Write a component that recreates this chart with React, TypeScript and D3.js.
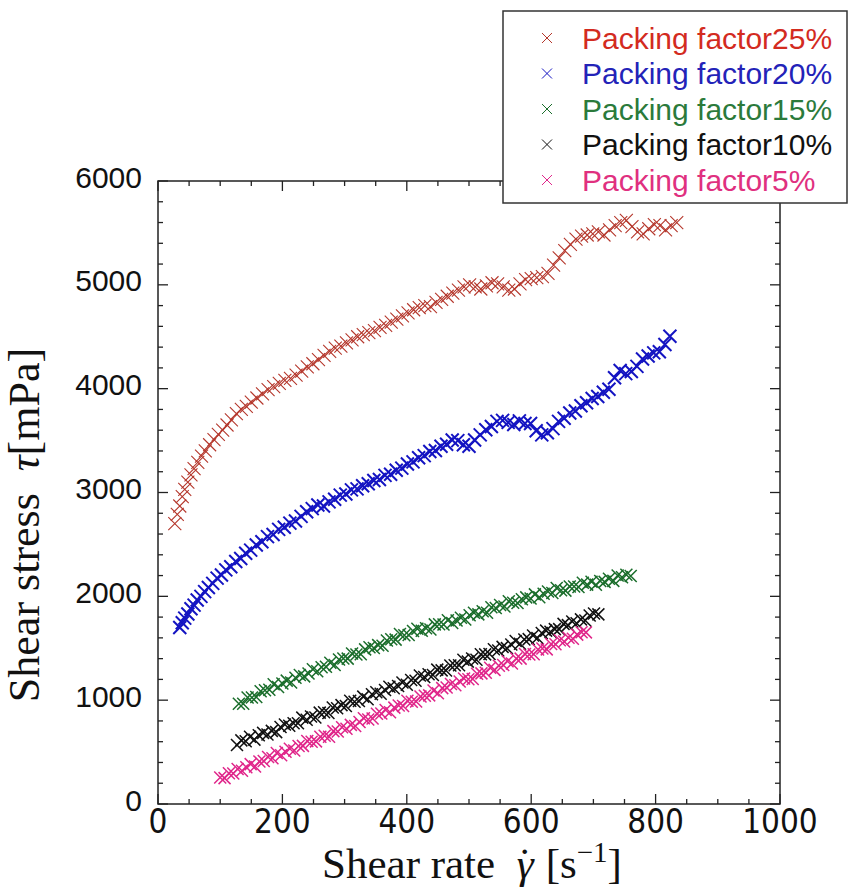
import React from "react";
import * as d3 from "d3";

// shear rate [1/s], shear stress [mPa]
const pf25 = [
  [27, 2700], [31, 2790], [35, 2870], [39, 2960], [43, 3030], [48, 3100], [53, 3170], [58, 3230],
  [64, 3290], [70, 3350], [76, 3400], [83, 3460], [90, 3510], [97, 3560], [104, 3600], [111, 3650],
  [118, 3700], [126, 3760], [134, 3800], [142, 3830], [150, 3870], [159, 3910], [168, 3950], [177, 3990],
  [186, 4020], [195, 4050], [204, 4080], [213, 4100], [222, 4130], [231, 4170], [240, 4210], [249, 4240],
  [258, 4280], [267, 4320], [276, 4360], [285, 4390], [294, 4410], [303, 4440], [312, 4470], [321, 4500],
  [330, 4520], [339, 4540], [348, 4560], [357, 4590], [366, 4610], [375, 4640], [384, 4670], [393, 4700],
  [402, 4730], [411, 4760], [420, 4780], [429, 4800], [438, 4790], [447, 4830], [456, 4860], [465, 4890],
  [474, 4920], [483, 4950], [492, 4980], [501, 5000], [510, 4980], [519, 4960], [528, 4990], [537, 5020],
  [546, 5010], [555, 4980], [564, 4950], [573, 4960], [582, 5010], [591, 5050], [600, 5060], [609, 5070],
  [618, 5080], [627, 5110], [636, 5190], [645, 5260], [654, 5330], [663, 5390], [672, 5440], [681, 5470],
  [690, 5480], [699, 5490], [708, 5510], [717, 5480], [726, 5530], [735, 5570], [744, 5600], [753, 5620],
  [762, 5560], [771, 5510], [780, 5490], [789, 5540], [798, 5580], [807, 5570], [816, 5530], [825, 5570],
  [834, 5600],
];

const pf20 = [
  [35, 1700], [39, 1745], [43, 1790], [48, 1830], [53, 1880], [58, 1915], [63, 1965], [69, 2000],
  [75, 2045], [81, 2085], [88, 2125], [95, 2175], [102, 2205], [109, 2255], [117, 2285], [125, 2335],
  [133, 2365], [141, 2415], [149, 2445], [158, 2495], [167, 2525], [176, 2575], [185, 2595], [194, 2645],
  [203, 2665], [212, 2705], [221, 2725], [230, 2770], [239, 2815], [248, 2845], [257, 2880], [266, 2870],
  [275, 2910], [284, 2935], [293, 2975], [302, 2985], [311, 3025], [320, 3035], [329, 3065], [338, 3085],
  [347, 3115], [356, 3125], [365, 3165], [374, 3175], [383, 3215], [392, 3235], [401, 3275], [410, 3295],
  [419, 3335], [428, 3355], [437, 3395], [446, 3405], [455, 3445], [464, 3465], [473, 3505], [482, 3500],
  [491, 3460], [500, 3445], [509, 3505], [518, 3555], [527, 3605], [536, 3635], [545, 3685], [554, 3695],
  [563, 3675], [572, 3655], [581, 3690], [590, 3665], [599, 3665], [608, 3595], [617, 3555], [626, 3575],
  [635, 3615], [644, 3685], [653, 3715], [662, 3765], [671, 3785], [680, 3835], [689, 3865], [698, 3905],
  [707, 3925], [716, 3965], [725, 3995], [734, 4105], [743, 4175], [752, 4145], [761, 4165], [770, 4215],
  [779, 4285], [788, 4315], [797, 4345], [806, 4355], [815, 4425], [823, 4505],
];

const pf15 = [
  [130, 965], [137, 965], [144, 1025], [151, 1025], [158, 1030], [165, 1085], [172, 1095], [179, 1100],
  [186, 1153], [193, 1127], [200, 1160], [207, 1188], [214, 1170], [221, 1216], [228, 1242], [235, 1229],
  [242, 1256], [249, 1298], [256, 1278], [263, 1317], [270, 1321], [277, 1360], [284, 1339], [291, 1391],
  [298, 1401], [305, 1400], [312, 1450], [319, 1440], [326, 1443], [333, 1489], [340, 1510], [347, 1502],
  [354, 1530], [361, 1524], [368, 1575], [375, 1586], [382, 1583], [389, 1637], [396, 1626], [403, 1628],
  [410, 1666], [417, 1687], [424, 1669], [431, 1693], [438, 1680], [445, 1730], [452, 1731], [459, 1729],
  [466, 1769], [473, 1744], [480, 1768], [487, 1794], [494, 1776], [501, 1818], [508, 1841], [515, 1826],
  [522, 1856], [529, 1842], [536, 1894], [543, 1888], [550, 1916], [557, 1902], [564, 1952], [571, 1939],
  [578, 1936], [585, 1972], [592, 1990], [599, 1979], [606, 2019], [613, 1991], [620, 2025], [627, 2046],
  [634, 2033], [641, 2081], [648, 2058], [655, 2055], [662, 2094], [669, 2095], [676, 2089], [683, 2130],
  [690, 2113], [697, 2141], [704, 2112], [711, 2148], [718, 2139], [725, 2170], [732, 2149], [739, 2200],
  [746, 2183], [753, 2208], [760, 2195],
];

const pf10 = [
  [127, 568], [134, 613], [141, 605], [148, 647], [155, 620], [162, 663], [169, 685], [176, 670],
  [183, 704], [190, 692], [197, 742], [204, 765], [211, 753], [218, 777], [225, 778], [232, 832],
  [239, 812], [246, 843], [253, 833], [260, 880], [267, 884], [274, 876], [281, 930], [288, 922],
  [295, 952], [302, 943], [309, 994], [316, 985], [323, 992], [330, 1034], [337, 1009], [344, 1057],
  [351, 1076], [358, 1061], [365, 1098], [372, 1129], [379, 1115], [386, 1137], [393, 1170], [400, 1149],
  [407, 1195], [414, 1187], [421, 1238], [428, 1223], [435, 1250], [442, 1243], [449, 1294], [456, 1287],
  [463, 1286], [470, 1333], [477, 1337], [484, 1337], [491, 1390], [498, 1371], [505, 1402], [512, 1389],
  [519, 1443], [526, 1441], [533, 1445], [540, 1491], [547, 1479], [554, 1513], [561, 1501], [568, 1536],
  [575, 1570], [582, 1544], [589, 1585], [596, 1588], [603, 1622], [610, 1599], [617, 1647], [624, 1670],
  [631, 1658], [638, 1684], [645, 1684], [652, 1735], [659, 1723], [666, 1757], [673, 1741], [680, 1778],
  [687, 1768], [694, 1815], [701, 1835], [708, 1826],
];

const pf5 = [
  [100, 255], [107, 249], [114, 296], [121, 293], [128, 337], [135, 320], [142, 354], [149, 384],
  [156, 362], [163, 410], [170, 414], [177, 453], [184, 441], [191, 492], [198, 469], [205, 503],
  [212, 532], [219, 516], [226, 559], [233, 560], [240, 607], [247, 600], [254, 603], [261, 647],
  [268, 657], [275, 647], [282, 702], [289, 698], [296, 739], [303, 725], [310, 762], [317, 752],
  [324, 790], [331, 826], [338, 813], [345, 823], [352, 869], [359, 871], [366, 905], [373, 884],
  [380, 928], [387, 949], [394, 943], [401, 995], [408, 984], [415, 988], [422, 1035], [429, 1043],
  [436, 1046], [443, 1093], [450, 1066], [457, 1116], [464, 1122], [471, 1156], [478, 1143], [485, 1179],
  [492, 1209], [499, 1201], [506, 1204], [513, 1254], [520, 1258], [527, 1264], [534, 1313], [541, 1292],
  [548, 1332], [555, 1338], [562, 1374], [569, 1354], [576, 1402], [583, 1400], [590, 1445], [597, 1440],
  [604, 1443], [611, 1488], [618, 1497], [625, 1489], [632, 1541], [639, 1538], [646, 1577], [653, 1565],
  [660, 1602], [667, 1592], [674, 1631], [681, 1655], [688, 1653],
];

const seriesNames = [
  "Packing factor25%",
  "Packing factor20%",
  "Packing factor15%",
  "Packing factor10%",
  "Packing factor5%",
];

const W = 849;
const H = 888;
const left = 158;
const right = 780;
const top = 181;
const bottom = 804;

const cross = (s: number) => `M${-s},${-s}L${s},${s}M${-s},${s}L${s},${-s}`;

export default function App() {
  const x = d3.scaleLinear().domain([0, 1000]).range([left, right]);
  const y = d3.scaleLinear().domain([0, 6000]).range([bottom, top]);

  const series = [
    { name: seriesNames[0], data: pf25, color: "#b5372c", text: "#d32b1f", size: 6.5, sw: 1.1 },
    { name: seriesNames[1], data: pf20, color: "#1414c2", text: "#2323b8", size: 6.5, sw: 2 },
    { name: seriesNames[2], data: pf15, color: "#1b6e2c", text: "#2b7a3b", size: 6, sw: 1.5 },
    { name: seriesNames[3], data: pf10, color: "#111111", text: "#111111", size: 6, sw: 1.5 },
    { name: seriesNames[4], data: pf5, color: "#e0268a", text: "#e0307f", size: 6, sw: 1.5 },
  ];

  const xMajor = x.ticks(5);
  const xMinor = x.ticks(20).filter((t) => !xMajor.includes(t));
  const yMajor = y.ticks(6);
  const yMinor = y.ticks(30).filter((t) => !yMajor.includes(t));

  const axisColor = "#222";
  const major = 10;
  const minor = 5;

  return (
    <svg
      width={W}
      height={H}
      style={{ position: "absolute", left: 0, top: 0, background: "#fff" }}
    >
      {/* data */}
      {series.map((s) => (
        <g key={s.name} stroke={s.color} strokeWidth={s.sw} fill="none">
          {s.data.map((d, i) => (
            <path key={i} d={cross(s.size)} transform={`translate(${x(d[0])},${y(d[1])})`} />
          ))}
        </g>
      ))}

      {/* frame + inward ticks on four sides */}
      <rect x={left} y={top} width={right - left} height={bottom - top} fill="none" stroke={axisColor} strokeWidth={1.5} />
      <g stroke={axisColor} strokeWidth={1.3}>
        {xMajor.map((t) => (
          <g key={"xM" + t}>
            <line x1={x(t)} x2={x(t)} y1={bottom} y2={bottom - major} />
            <line x1={x(t)} x2={x(t)} y1={top} y2={top + major} />
          </g>
        ))}
        {xMinor.map((t) => (
          <g key={"xm" + t}>
            <line x1={x(t)} x2={x(t)} y1={bottom} y2={bottom - minor} />
            <line x1={x(t)} x2={x(t)} y1={top} y2={top + minor} />
          </g>
        ))}
        {yMajor.map((t) => (
          <g key={"yM" + t}>
            <line x1={left} x2={left + major} y1={y(t)} y2={y(t)} />
            <line x1={right} x2={right - major} y1={y(t)} y2={y(t)} />
          </g>
        ))}
        {yMinor.map((t) => (
          <g key={"ym" + t}>
            <line x1={left} x2={left + minor} y1={y(t)} y2={y(t)} />
            <line x1={right} x2={right - minor} y1={y(t)} y2={y(t)} />
          </g>
        ))}
      </g>

      {/* tick labels */}
      <g fontFamily="'Liberation Sans Narrow', 'DejaVu Sans Condensed', sans-serif" fontSize={33} fill="#111" textAnchor="middle">
        {xMajor.map((t) => (
          <text key={t} x={x(t)} y={821} dominantBaseline="central">
            {t}
          </text>
        ))}
      </g>
      <g fontFamily="'Liberation Sans', Arial, sans-serif" fontSize={30} fill="#111" textAnchor="end">
        {yMajor.map((t) => (
          <text key={t} x={142} y={y(t) - 4} dominantBaseline="central">
            {t}
          </text>
        ))}
      </g>

      {/* axis titles */}
      <text x={472} y={878} textAnchor="middle" fontFamily="'Liberation Serif', serif" fontSize={43} fill="#111">
        Shear rate{"\u00a0\u00a0"}
        <tspan fontStyle="italic">{"\u03b3"}</tspan>
        <tspan dx={-16}>{"\u02d9"}</tspan>
        <tspan dx={3}>{"\u00a0[s"}</tspan>
        <tspan dy={-16} fontSize={29}>{"\u22121"}</tspan>
        <tspan dy={16}>]</tspan>
      </text>
      <text
        transform="translate(39,525) rotate(-90)"
        textAnchor="middle"
        fontFamily="'Liberation Serif', serif"
        fontSize={44}
        fill="#111"
      >
        Shear stress{"\u00a0\u00a0"}
        <tspan fontStyle="italic">{"\u03c4"}</tspan>[mPa]
      </text>

      {/* legend */}
      <rect x={503} y={11} width={344} height={192} fill="#fff" stroke="#333" strokeWidth={1.5} />
      {series.map((s, i) => {
        const ly = 38 + i * 35.5;
        return (
          <g key={"lg" + s.name}>
            <path d={cross(5)} transform={`translate(547,${ly})`} stroke={s.color} strokeWidth={1} fill="none" />
            <text
              x={582}
              y={ly}
              dominantBaseline="central"
              fontFamily="'Liberation Sans', Arial, sans-serif"
              fontSize={30}
              fill={s.text}
            >
              {s.name}
            </text>
          </g>
        );
      })}
    </svg>
  );
}
